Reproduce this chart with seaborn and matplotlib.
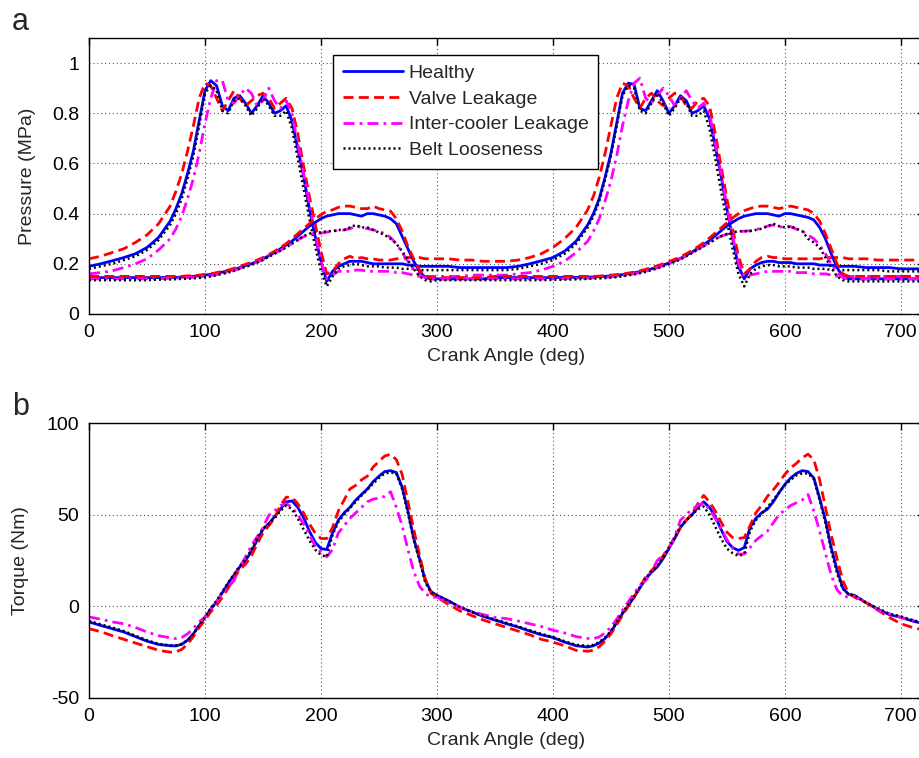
import matplotlib
matplotlib.use("Agg")
import matplotlib.pyplot as plt
import seaborn as sns
import pandas as pd

# ---------------- data ----------------
ANGLE = [
    0, 10, 20, 30, 40, 50, 60, 70,
    75, 80, 85, 90, 95, 100, 105, 110, 115, 120,
    125, 130, 135, 140, 145, 150, 155, 160, 165, 170,
    175, 180, 185, 190, 195, 200, 205, 210, 215, 220,
    225, 230, 235, 240, 245, 250, 255, 260, 265, 270,
    275, 280, 285, 290, 295, 300,
    310, 320, 330, 340, 350,
    360, 370, 380, 390, 400, 410, 420, 430,
    435, 440, 445, 450, 455, 460, 465, 470, 475, 480,
    485, 490, 495, 500, 505, 510, 515, 520, 525, 530,
    535, 540, 545, 550, 555, 560, 565, 570, 575, 580,
    585, 590, 595, 600, 605, 610, 615, 620, 625, 630,
    635, 640, 645, 650, 655, 660,
    670, 680, 690, 700, 710, 720,
]

CONDITIONS = ["Healthy", "Valve Leakage", "Inter-cooler Leakage", "Belt Looseness"]

# Pressure, first cylinder trace (peaks near 0.9 MPa)
P1_HEALTHY = [
    0.190, 0.200, 0.212, 0.225, 0.240, 0.265, 0.305, 0.370,
    0.420, 0.480, 0.560, 0.650, 0.770, 0.890, 0.930, 0.910, 0.830, 0.810,
    0.860, 0.870, 0.840, 0.800, 0.830, 0.870, 0.840, 0.800, 0.810, 0.830,
    0.770, 0.660, 0.550, 0.420, 0.310, 0.210, 0.130, 0.170, 0.190, 0.200,
    0.210, 0.210, 0.210, 0.205, 0.200, 0.200, 0.200, 0.200, 0.200, 0.200,
    0.195, 0.195, 0.190, 0.190, 0.190, 0.190,
    0.190, 0.185, 0.185, 0.185, 0.185,
    0.185, 0.190, 0.200, 0.212, 0.225, 0.250, 0.290, 0.355,
    0.400, 0.460, 0.545, 0.640, 0.760, 0.880, 0.920, 0.915, 0.820, 0.810,
    0.850, 0.890, 0.850, 0.800, 0.830, 0.870, 0.850, 0.800, 0.810, 0.830,
    0.780, 0.670, 0.550, 0.420, 0.300, 0.190, 0.140, 0.180, 0.195, 0.205,
    0.210, 0.210, 0.205, 0.205, 0.205, 0.200, 0.200, 0.200, 0.200, 0.195,
    0.195, 0.195, 0.190, 0.190, 0.190, 0.190,
    0.185, 0.185, 0.185, 0.180, 0.180, 0.180,
]
P1_VALVE = [
    0.220, 0.230, 0.245, 0.260, 0.285, 0.315, 0.360, 0.430,
    0.490, 0.560, 0.650, 0.750, 0.860, 0.920, 0.910, 0.860, 0.810, 0.850,
    0.890, 0.860, 0.830, 0.850, 0.870, 0.880, 0.860, 0.820, 0.840, 0.860,
    0.820, 0.720, 0.590, 0.470, 0.360, 0.250, 0.160, 0.170, 0.200, 0.220,
    0.230, 0.220, 0.225, 0.220, 0.220, 0.215, 0.215, 0.215, 0.220, 0.220,
    0.225, 0.225, 0.225, 0.220, 0.220, 0.220,
    0.220, 0.215, 0.215, 0.210, 0.210,
    0.210, 0.215, 0.225, 0.240, 0.265, 0.300, 0.345, 0.415,
    0.470, 0.545, 0.640, 0.750, 0.860, 0.920, 0.910, 0.860, 0.820, 0.860,
    0.880, 0.850, 0.830, 0.860, 0.880, 0.870, 0.830, 0.820, 0.850, 0.860,
    0.830, 0.720, 0.590, 0.460, 0.340, 0.230, 0.160, 0.180, 0.210, 0.225,
    0.230, 0.225, 0.225, 0.220, 0.220, 0.220, 0.220, 0.220, 0.220, 0.220,
    0.225, 0.225, 0.225, 0.225, 0.220, 0.220,
    0.220, 0.215, 0.215, 0.215, 0.215, 0.215,
]
P1_COOLER = [
    0.160, 0.165, 0.172, 0.185, 0.200, 0.220, 0.255, 0.300,
    0.340, 0.390, 0.460, 0.540, 0.640, 0.760, 0.860, 0.930, 0.930, 0.850,
    0.840, 0.870, 0.900, 0.880, 0.830, 0.850, 0.900, 0.850, 0.820, 0.850,
    0.800, 0.680, 0.560, 0.440, 0.320, 0.210, 0.140, 0.155, 0.170, 0.170,
    0.170, 0.175, 0.175, 0.170, 0.170, 0.170, 0.170, 0.170, 0.165, 0.165,
    0.160, 0.155, 0.150, 0.150, 0.150, 0.150,
    0.150, 0.150, 0.155, 0.155, 0.155,
    0.155, 0.160, 0.165, 0.175, 0.190, 0.210, 0.245, 0.290,
    0.330, 0.380, 0.450, 0.530, 0.630, 0.750, 0.850, 0.920, 0.940, 0.860,
    0.840, 0.870, 0.900, 0.870, 0.830, 0.860, 0.890, 0.850, 0.820, 0.840,
    0.800, 0.680, 0.560, 0.430, 0.310, 0.200, 0.150, 0.155, 0.160, 0.165,
    0.170, 0.170, 0.170, 0.170, 0.170, 0.165, 0.165, 0.165, 0.160, 0.160,
    0.160, 0.155, 0.150, 0.150, 0.150, 0.150,
    0.150, 0.150, 0.150, 0.150, 0.150, 0.150,
]
P1_BELT = [
    0.180, 0.190, 0.200, 0.215, 0.230, 0.255, 0.295, 0.355,
    0.400, 0.460, 0.540, 0.630, 0.750, 0.880, 0.910, 0.890, 0.810, 0.800,
    0.850, 0.860, 0.830, 0.790, 0.820, 0.860, 0.830, 0.790, 0.790, 0.810,
    0.740, 0.620, 0.500, 0.380, 0.270, 0.170, 0.110, 0.150, 0.180, 0.190,
    0.195, 0.200, 0.195, 0.190, 0.190, 0.190, 0.185, 0.185, 0.185, 0.180,
    0.180, 0.180, 0.175, 0.175, 0.175, 0.175,
    0.175, 0.175, 0.175, 0.175, 0.175,
    0.175, 0.180, 0.190, 0.200, 0.215, 0.240, 0.280, 0.345,
    0.390, 0.450, 0.535, 0.630, 0.750, 0.870, 0.910, 0.900, 0.810, 0.800,
    0.840, 0.880, 0.840, 0.790, 0.820, 0.860, 0.840, 0.790, 0.790, 0.810,
    0.740, 0.620, 0.490, 0.370, 0.260, 0.160, 0.110, 0.160, 0.180, 0.190,
    0.195, 0.195, 0.190, 0.190, 0.190, 0.185, 0.185, 0.185, 0.180, 0.180,
    0.180, 0.175, 0.175, 0.175, 0.175, 0.175,
    0.175, 0.175, 0.170, 0.170, 0.170, 0.170,
]

# Pressure, second cylinder trace (peaks near 0.4 MPa)
P2_HEALTHY = [
    0.145, 0.145, 0.145, 0.145, 0.145, 0.145, 0.145, 0.146,
    0.146, 0.147, 0.148, 0.150, 0.152, 0.155, 0.158, 0.162, 0.167, 0.172,
    0.178, 0.185, 0.193, 0.200, 0.210, 0.220, 0.232, 0.245, 0.260, 0.275,
    0.290, 0.310, 0.330, 0.350, 0.365, 0.380, 0.390, 0.395, 0.400, 0.400,
    0.400, 0.395, 0.390, 0.400, 0.400, 0.395, 0.390, 0.380, 0.360, 0.310,
    0.260, 0.210, 0.170, 0.145, 0.140, 0.140,
    0.140, 0.140, 0.140, 0.140, 0.145,
    0.145, 0.145, 0.145, 0.145, 0.145, 0.146, 0.146, 0.147,
    0.148, 0.149, 0.150, 0.152, 0.154, 0.157, 0.160, 0.164, 0.169, 0.174,
    0.180, 0.187, 0.195, 0.203, 0.212, 0.222, 0.234, 0.247, 0.262, 0.277,
    0.292, 0.312, 0.332, 0.350, 0.366, 0.380, 0.390, 0.395, 0.400, 0.400,
    0.400, 0.395, 0.390, 0.400, 0.400, 0.395, 0.390, 0.385, 0.375, 0.345,
    0.300, 0.240, 0.185, 0.150, 0.140, 0.140,
    0.140, 0.140, 0.140, 0.140, 0.140, 0.140,
]
P2_VALVE = [
    0.150, 0.150, 0.150, 0.150, 0.150, 0.150, 0.150, 0.150,
    0.150, 0.150, 0.152, 0.153, 0.155, 0.158, 0.160, 0.165, 0.170, 0.175,
    0.182, 0.190, 0.198, 0.206, 0.215, 0.225, 0.237, 0.250, 0.265, 0.280,
    0.300, 0.320, 0.340, 0.360, 0.380, 0.395, 0.410, 0.415, 0.425, 0.430,
    0.430, 0.425, 0.420, 0.420, 0.430, 0.420, 0.415, 0.410, 0.380, 0.330,
    0.270, 0.220, 0.175, 0.150, 0.145, 0.145,
    0.145, 0.145, 0.145, 0.145, 0.150,
    0.150, 0.150, 0.150, 0.150, 0.150, 0.150, 0.150, 0.150,
    0.150, 0.151, 0.153, 0.155, 0.157, 0.160, 0.163, 0.167, 0.172, 0.178,
    0.185, 0.192, 0.200, 0.208, 0.218, 0.228, 0.240, 0.253, 0.268, 0.284,
    0.303, 0.323, 0.343, 0.363, 0.383, 0.400, 0.412, 0.420, 0.428, 0.430,
    0.430, 0.425, 0.420, 0.425, 0.430, 0.425, 0.420, 0.415, 0.400, 0.370,
    0.320, 0.260, 0.200, 0.160, 0.150, 0.150,
    0.150, 0.150, 0.150, 0.150, 0.150, 0.150,
]
P2_COOLER = [
    0.140, 0.140, 0.140, 0.140, 0.140, 0.140, 0.141, 0.142,
    0.143, 0.144, 0.145, 0.146, 0.148, 0.150, 0.153, 0.157, 0.162, 0.167,
    0.174, 0.182, 0.190, 0.197, 0.207, 0.217, 0.230, 0.242, 0.254, 0.267,
    0.280, 0.295, 0.308, 0.318, 0.322, 0.322, 0.326, 0.330, 0.333, 0.335,
    0.340, 0.350, 0.345, 0.340, 0.335, 0.330, 0.320, 0.305, 0.280, 0.245,
    0.210, 0.180, 0.155, 0.145, 0.140, 0.140,
    0.140, 0.140, 0.140, 0.140, 0.140,
    0.140, 0.140, 0.140, 0.140, 0.140, 0.141, 0.142, 0.143,
    0.144, 0.145, 0.146, 0.148, 0.150, 0.153, 0.156, 0.160, 0.165, 0.170,
    0.177, 0.184, 0.192, 0.200, 0.210, 0.220, 0.232, 0.245, 0.258, 0.271,
    0.284, 0.298, 0.310, 0.318, 0.324, 0.328, 0.330, 0.332, 0.336, 0.342,
    0.350, 0.355, 0.348, 0.345, 0.348, 0.338, 0.330, 0.315, 0.300, 0.275,
    0.240, 0.200, 0.165, 0.145, 0.140, 0.140,
    0.140, 0.140, 0.140, 0.140, 0.140, 0.140,
]
P2_BELT = [
    0.135, 0.135, 0.135, 0.135, 0.135, 0.135, 0.137, 0.138,
    0.139, 0.140, 0.141, 0.142, 0.144, 0.146, 0.150, 0.155, 0.160, 0.165,
    0.172, 0.180, 0.188, 0.195, 0.205, 0.215, 0.228, 0.240, 0.252, 0.265,
    0.280, 0.295, 0.310, 0.320, 0.325, 0.325, 0.330, 0.330, 0.335, 0.335,
    0.345, 0.355, 0.345, 0.345, 0.335, 0.325, 0.315, 0.300, 0.280, 0.250,
    0.215, 0.180, 0.150, 0.135, 0.130, 0.135,
    0.135, 0.135, 0.135, 0.135, 0.135,
    0.135, 0.135, 0.135, 0.135, 0.136, 0.137, 0.138, 0.140,
    0.141, 0.142, 0.143, 0.145, 0.147, 0.150, 0.154, 0.158, 0.163, 0.168,
    0.175, 0.182, 0.190, 0.198, 0.208, 0.218, 0.230, 0.243, 0.256, 0.270,
    0.283, 0.298, 0.310, 0.318, 0.325, 0.330, 0.330, 0.330, 0.335, 0.340,
    0.350, 0.360, 0.350, 0.345, 0.350, 0.340, 0.330, 0.300, 0.285, 0.265,
    0.225, 0.185, 0.150, 0.135, 0.130, 0.130,
    0.130, 0.130, 0.130, 0.130, 0.130, 0.130,
]

# Torque
T_HEALTHY = [
    -8.5, -10.4, -12.2, -14.0, -16.5, -19.0, -20.8, -21.5,
    -21.6, -20.7, -18.5, -15.0, -10.4, -6.0, -1.5, 2.5, 7.5, 12.5,
    17.0, 21.5, 25.0, 30.0, 36.0, 42.0, 45.0, 49.0, 53.0, 57.0,
    57.5, 54.0, 48.5, 41.0, 35.0, 31.5, 31.0, 40.0, 47.0, 51.0,
    54.0, 58.0, 61.0, 64.0, 68.0, 71.0, 73.5, 74.0, 73.0, 65.0,
    52.0, 37.0, 26.0, 14.0, 8.0, 6.0,
    3.0, -0.5, -3.0, -5.5, -7.5,
    -9.5, -11.3, -13.5, -15.5, -17.0, -19.5, -21.5, -22.2,
    -21.5, -20.0, -17.5, -14.0, -9.0, -4.0, 0.5, 5.0, 10.0, 15.0,
    18.5, 21.5, 26.0, 31.5, 37.0, 43.0, 47.0, 50.0, 54.0, 57.0,
    54.0, 49.0, 42.0, 35.5, 32.0, 30.5, 32.0, 43.0, 48.0, 51.0,
    53.0, 57.0, 62.0, 66.5, 70.0, 72.5, 74.0, 73.5, 70.0, 59.0,
    47.0, 32.0, 20.0, 10.0, 6.5, 6.0,
    2.0, -1.5, -4.5, -6.0, -8.0, -9.5,
]
T_VALVE = [
    -12.2, -13.8, -16.0, -18.0, -20.0, -22.0, -24.0, -25.0,
    -24.8, -23.5, -20.5, -16.5, -11.5, -7.5, -3.0, 0.5, 5.0, 10.0,
    15.5, 20.0, 23.0, 27.5, 34.0, 40.0, 44.0, 48.0, 55.0, 59.5,
    59.5, 56.0, 51.0, 45.0, 40.0, 37.0, 37.0, 43.0, 52.0, 58.0,
    64.0, 66.0, 69.0, 71.0, 76.0, 79.0, 82.0, 83.0, 80.0, 72.0,
    57.0, 42.0, 28.0, 15.0, 7.0, 5.0,
    1.0, -2.5, -5.0, -7.5, -9.5,
    -11.5, -13.5, -15.5, -18.0, -19.5, -21.5, -24.0, -24.5,
    -24.0, -22.0, -19.0, -15.0, -10.0, -5.0, 0.0, 5.0, 10.5, 16.0,
    19.5, 23.0, 27.5, 32.0, 37.5, 43.0, 47.0, 50.5, 56.0, 60.5,
    57.0, 52.0, 46.0, 40.5, 37.5, 37.0, 37.5, 44.0, 51.0, 55.0,
    60.0, 63.5, 67.5, 72.0, 75.5, 78.0, 81.0, 83.0, 80.0, 69.0,
    54.0, 39.0, 26.0, 14.0, 7.0, 5.0,
    2.0, -2.0, -6.0, -9.5, -11.5, -13.0,
]
T_COOLER = [
    -5.8, -7.0, -8.5, -9.5, -11.5, -14.0, -16.0, -17.2,
    -17.6, -17.0, -15.0, -12.0, -8.5, -5.8, -1.5, 2.4, 7.0, 10.5,
    14.0, 21.5, 27.0, 33.0, 38.0, 43.0, 49.6, 52.0, 55.0, 56.0,
    54.0, 50.0, 45.0, 39.0, 33.0, 29.5, 27.0, 31.0, 40.0, 44.0,
    48.0, 51.0, 54.0, 57.0, 58.5, 59.0, 60.0, 62.5, 54.0, 44.0,
    31.0, 19.0, 11.0, 7.0, 5.0, 5.0,
    2.0, -0.5, -3.0, -4.5, -6.0,
    -6.7, -8.0, -9.5, -11.0, -13.0, -14.5, -16.5, -17.5,
    -17.6, -16.7, -14.5, -11.3, -7.0, -2.2, 2.5, 7.0, 11.5, 14.0,
    19.0, 25.0, 28.0, 31.5, 38.0, 47.0, 50.0, 53.0, 55.0, 56.5,
    53.0, 48.0, 42.5, 36.5, 31.5, 28.5, 28.5, 32.0, 36.0, 38.5,
    41.0, 45.5, 50.0, 52.5, 55.0, 56.5, 58.0, 61.0, 52.0, 41.0,
    29.0, 17.0, 9.0, 5.5, 5.0, 5.5,
    2.4, -2.0, -4.0, -6.0, -7.5, -9.0,
]
T_BELT = [
    -8.0, -9.8, -11.5, -13.5, -16.0, -18.5, -20.5, -21.3,
    -21.3, -20.5, -18.5, -15.0, -10.5, -6.0, -1.0, 3.0, 8.0, 13.0,
    17.5, 22.0, 25.5, 31.0, 37.0, 42.5, 45.0, 48.0, 52.0, 55.0,
    53.0, 48.0, 42.0, 36.0, 31.0, 28.0, 27.0, 39.0, 46.0, 50.0,
    53.5, 57.0, 60.5, 63.5, 67.0, 70.0, 72.5, 73.0, 72.5, 64.0,
    51.0, 36.0, 25.0, 13.0, 7.5, 6.0,
    3.0, -0.5, -3.0, -5.3, -7.2,
    -9.0, -11.0, -13.0, -15.0, -16.8, -19.0, -21.0, -21.6,
    -21.0, -19.5, -17.0, -13.5, -8.5, -3.5, 1.0, 5.5, 10.5, 15.5,
    19.0, 22.0, 26.5, 32.0, 37.5, 43.5, 47.0, 50.0, 53.0, 54.5,
    50.0, 43.5, 37.0, 31.5, 29.0, 27.5, 28.5, 41.0, 47.0, 50.5,
    54.0, 58.0, 62.0, 66.0, 69.0, 71.5, 72.5, 72.5, 69.5, 58.0,
    45.5, 30.5, 18.0, 9.5, 6.5, 6.0,
    2.0, -1.0, -4.0, -5.5, -7.5, -9.0,
]

X_TICKS = [0, 100, 200, 300, 400, 500, 600, 700]
P_TICKS = [0, 0.2, 0.4, 0.6, 0.8, 1.0]
P_TICK_LABELS = ["0", "0.2", "0.4", "0.6", "0.8", "1"]
T_TICKS = [-50, 0, 50, 100]
T_TICK_LABELS = ["-50", "0", "50", "100"]

# ---------------- styling ----------------
sns.set_theme(style="white")
plt.rcParams["font.family"] = ["Liberation Sans", "DejaVu Sans"]
FS = 14

STYLES = {
    "Healthy": dict(color="#0000ff", linestyle="-", linewidth=2.0),
    "Valve Leakage": dict(color="#ff0000", linestyle=(0, (3.6, 1.9)), linewidth=2.0),
    "Inter-cooler Leakage": dict(color="#ff00ff", linestyle=(0, (4.0, 1.8, 1.0, 1.8)), linewidth=2.0),
    "Belt Looseness": dict(color="black", linestyle=(0, (0.8, 1.2)), linewidth=1.8),
}

W, H = 919, 758
fig = plt.figure(figsize=(W / 100, H / 100), dpi=100)
ax1 = fig.add_axes([89 / W, 1 - 314 / H, 835 / W, 276 / H])
ax2 = fig.add_axes([89 / W, 1 - 698 / H, 835 / W, 275 / H])

p1 = dict(zip(CONDITIONS, [P1_HEALTHY, P1_VALVE, P1_COOLER, P1_BELT]))
p2 = dict(zip(CONDITIONS, [P2_HEALTHY, P2_VALVE, P2_COOLER, P2_BELT]))
tq = dict(zip(CONDITIONS, [T_HEALTHY, T_VALVE, T_COOLER, T_BELT]))

for cond in CONDITIONS:
    df = pd.DataFrame({"angle": ANGLE, "p": p1[cond]})
    sns.lineplot(data=df, x="angle", y="p", ax=ax1, sort=False, estimator=None,
                 label=cond, **STYLES[cond])
for cond in CONDITIONS:
    df = pd.DataFrame({"angle": ANGLE, "p": p2[cond]})
    sns.lineplot(data=df, x="angle", y="p", ax=ax1, sort=False, estimator=None,
                 legend=False, **STYLES[cond])
for cond in CONDITIONS:
    df = pd.DataFrame({"angle": ANGLE, "t": tq[cond]})
    sns.lineplot(data=df, x="angle", y="t", ax=ax2, sort=False, estimator=None,
                 legend=False, **STYLES[cond])

for ax in (ax1, ax2):
    ax.set_xlim(0, 720)
    ax.set_xticks(X_TICKS)
    ax.set_xticklabels([str(v) for v in X_TICKS])
    ax.grid(True, linestyle=(0, (1, 2.5)), color="#555555", linewidth=0.8)
    ax.tick_params(direction="in", length=5, width=1, top=True, right=True,
                   labelsize=FS, pad=7, colors="black")
    for s in ax.spines.values():
        s.set_color("black")
        s.set_linewidth(1.0)
    ax.set_xlabel("Crank Angle (deg)", fontsize=FS, labelpad=5)

ax1.set_ylim(0, 1.1)
ax1.set_yticks(P_TICKS)
ax1.set_yticklabels(P_TICK_LABELS)
ax1.set_ylabel("Pressure (MPa)", fontsize=FS)
ax1.yaxis.set_label_coords(-0.064, 0.5)

ax2.set_ylim(-50, 100)
ax2.set_yticks(T_TICKS)
ax2.set_yticklabels(T_TICK_LABELS)
ax2.set_ylabel("Torque (Nm)", fontsize=FS)
ax2.yaxis.set_label_coords(-0.072, 0.5)

leg = ax1.legend(loc="upper left", bbox_to_anchor=(0.292, 0.94), fontsize=FS,
                 frameon=True, fancybox=False, edgecolor="black", framealpha=1,
                 handlelength=3.1, handletextpad=0.3, labelspacing=0.42,
                 borderpad=0.5, borderaxespad=0)
leg.get_frame().set_linewidth(1.0)

fig.text(12 / W, 1 - 30 / H, "a", fontsize=22, ha="left", va="baseline")
fig.text(12 / W, 1 - 415 / H, "b", fontsize=22, ha="left", va="baseline")

fig.savefig("out.png", dpi=100)
